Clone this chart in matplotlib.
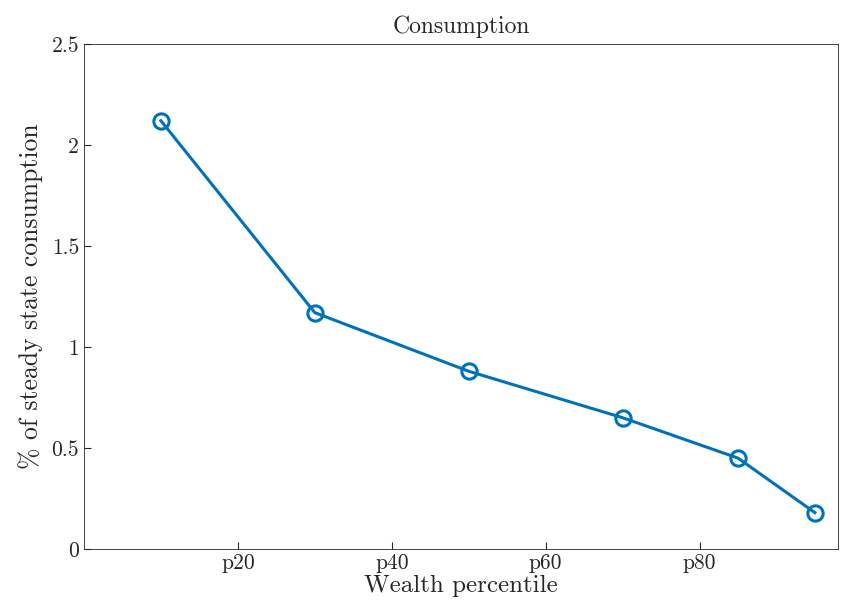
import matplotlib
matplotlib.use("Agg")
import matplotlib.pyplot as plt

percentiles = [10, 30, 50, 70, 85, 95]
consumption = [2.12, 1.17, 0.88, 0.65, 0.45, 0.18]
xtick_pos = [20, 40, 60, 80]
xtick_labels = ["p20", "p40", "p60", "p80"]
ytick_pos = [0, 0.5, 1, 1.5, 2, 2.5]
ytick_labels = ["0", "0.5", "1", "1.5", "2", "2.5"]

plt.rcParams["font.family"] = "serif"
plt.rcParams["font.serif"] = ["cmr10"]
plt.rcParams["mathtext.fontset"] = "cm"
plt.rcParams["axes.unicode_minus"] = False

fig = plt.figure(figsize=(8.48, 6.15), dpi=100)
ax = fig.add_axes([84 / 848, 1 - 549 / 615, 754 / 848, 505 / 615])
ax.plot(percentiles, consumption, color="#0072BD", lw=2.2, marker="o",
        markersize=11, markerfacecolor="none", markeredgewidth=2.2)
ax.set_xlim(0, 98)
ax.set_ylim(0, 2.5)
ax.set_xticks(xtick_pos)
ax.set_xticklabels(xtick_labels)
ax.set_yticks(ytick_pos)
ax.set_yticklabels(ytick_labels)
ax.tick_params(direction="in", labelsize=15.5, length=5, colors="#262626")
for s in ax.spines.values():
    s.set_linewidth(0.6)
    s.set_color("#262626")
ax.set_title("Consumption", fontsize=17, color="#262626", pad=8)
ax.set_xlabel("Wealth percentile", fontsize=18, color="#262626", labelpad=1)
ax.set_ylabel(r"% of steady state consumption", fontsize=18.5, color="#262626", labelpad=6)
fig.savefig("out.png", dpi=100)
